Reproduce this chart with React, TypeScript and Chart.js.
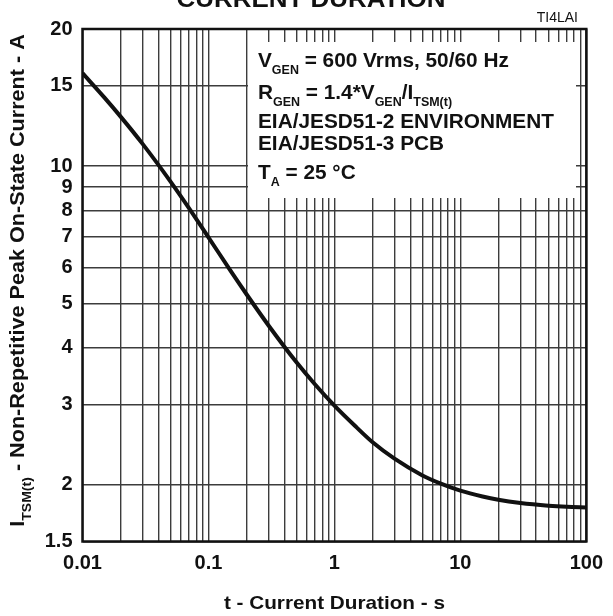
import { useEffect, useRef } from "react";
import {
    Chart,
    registerables,
    type ChartConfiguration,
    type Plugin,
} from "chart.js";

Chart.register(...registerables);

// t - current duration (s)
const durations = [
    0.01, 0.015, 0.02, 0.03, 0.05, 0.07, 0.1, 0.15, 0.2, 0.3, 0.5, 0.7, 1, 1.5,
    2, 3, 5, 7, 10, 15, 20, 30, 50, 70, 100,
];
// I_TSM(t) - non-repetitive peak on-state current (A)
const currents = [
    16.0, 14.12, 12.86, 11.19, 9.25, 8.09, 6.98, 5.89, 5.24, 4.47, 3.71, 3.32,
    2.98, 2.67, 2.48, 2.28, 2.095, 2.01, 1.94, 1.883, 1.852, 1.822, 1.798,
    1.788, 1.782,
];

const yTickValues = [1.5, 2, 3, 4, 5, 6, 7, 8, 9, 10, 15, 20];
const xDecades = [0.01, 0.1, 1, 10, 100];
const xMultipliers = [1, 2, 3, 4, 5, 6, 7, 8, 9];

type Seg = { t: string; sub?: boolean };

const conditionLines: Seg[][] = [
    [{ t: "V" }, { t: "GEN", sub: true }, { t: " = 600 Vrms, 50/60 Hz" }],
    [
        { t: "R" },
        { t: "GEN", sub: true },
        { t: " = 1.4*V" },
        { t: "GEN", sub: true },
        { t: "/I" },
        { t: "TSM(t)", sub: true },
    ],
    [{ t: "EIA/JESD51-2 ENVIRONMENT" }],
    [{ t: "EIA/JESD51-3 PCB" }],
    [{ t: "T" }, { t: "A", sub: true }, { t: " = 25 °C" }],
];
const conditionBaselines = [67, 99, 128, 150, 179];

const yTitle: Seg[] = [
    { t: "I" },
    { t: "TSM(t)", sub: true },
    { t: " - Non-Repetitive Peak On-State Current - A" },
];

const FONT = "'Liberation Sans', Arial, Helvetica, sans-serif";
const INK = "#111";
const GRID = "#3c3c3c";

const xTickValues = xDecades
    .slice(0, -1)
    .flatMap((d) => xMultipliers.map((m) => Number((d * m).toPrecision(2))))
    .concat([100]);

// draws text runs with subscripts, stretched horizontally by sx (the
// original uses a wider Helvetica than Liberation Sans)
const drawRich = (
    ctx: CanvasRenderingContext2D,
    segs: Seg[],
    x: number,
    y: number,
    size: number,
    subSize: number,
    subDrop: number,
    sx = 1,
    draw = true,
) => {
    let cx = 0;
    ctx.save();
    ctx.translate(x, y);
    ctx.scale(sx, 1);
    ctx.textAlign = "left";
    segs.forEach((s) => {
        ctx.font = `bold ${s.sub ? subSize : size}px ${FONT}`;
        if (draw) ctx.fillText(s.t, cx, s.sub ? subDrop : 0);
        cx += ctx.measureText(s.t).width;
    });
    ctx.restore();
    return cx * sx;
};

const drawCentered = (
    ctx: CanvasRenderingContext2D,
    text: string,
    x: number,
    y: number,
    font: string,
    sx: number,
) => {
    ctx.save();
    ctx.translate(x, y);
    ctx.scale(sx, 1);
    ctx.font = font;
    ctx.textAlign = "center";
    ctx.fillText(text, 0, 0);
    ctx.restore();
};

const decorPlugin: Plugin<"line"> = {
    id: "decor",
    beforeDatasetsDraw: (chart) => {
        const { ctx } = chart;
        ctx.save();
        // conditions box hides the grid behind it
        ctx.fillStyle = "#fff";
        ctx.fillRect(248, 42, 328, 156);
        ctx.fillStyle = INK;
        ctx.textBaseline = "alphabetic";
        conditionLines.forEach((segs, i) =>
            drawRich(ctx, segs, 258, conditionBaselines[i], 20, 12, 6.5, 1.04),
        );
        ctx.restore();
    },
    afterDraw: (chart) => {
        const { ctx, chartArea: a } = chart;
        ctx.save();
        ctx.strokeStyle = INK;
        ctx.lineWidth = 2.5;
        ctx.strokeRect(a.left, a.top, a.right - a.left, a.bottom - a.top);

        ctx.fillStyle = INK;
        ctx.textBaseline = "alphabetic";
        drawCentered(ctx, "CURRENT DURATION", 311, 7, `bold 24px ${FONT}`, 1.08);

        ctx.textAlign = "right";
        ctx.font = `14px ${FONT}`;
        ctx.fillText("TI4LAI", 578, 22);

        drawCentered(
            ctx,
            "t - Current Duration - s",
            (a.left + a.right) / 2,
            609,
            `bold 18.5px ${FONT}`,
            1.12,
        );

        // rotated y title with subscript
        const sx = 1.08;
        const w = drawRich(ctx, yTitle, 0, 0, 20, 13, 7, sx, false);
        ctx.translate(24, 280.5);
        ctx.rotate(-Math.PI / 2);
        drawRich(ctx, yTitle, -w / 2, 0, 20, 13, 7, sx);
        ctx.restore();
    },
};

const App = () => {
    const chartRef = useRef<HTMLCanvasElement>(null);
    const chartInstanceRef = useRef<Chart | null>(null);

    useEffect(() => {
        document.body.style.margin = "0";
        if (!chartRef.current) return;

        if (chartInstanceRef.current) {
            chartInstanceRef.current.destroy();
        }

        const tickFont = { family: FONT, size: 20, weight: "bold" as const };

        const config: ChartConfiguration<"line"> = {
            type: "line",
            data: {
                datasets: [
                    {
                        data: durations.map((t, i) => ({ x: t, y: currents[i] })),
                        borderColor: INK,
                        borderWidth: 4,
                        pointRadius: 0,
                        fill: false,
                        cubicInterpolationMode: "monotone",
                    },
                ],
            },
            options: {
                responsive: true,
                maintainAspectRatio: false,
                animation: false,
                layout: {
                    padding: { top: 29, right: 18, bottom: 0, left: 0 },
                },
                plugins: {
                    legend: { display: false },
                    tooltip: { enabled: false },
                },
                scales: {
                    x: {
                        type: "logarithmic",
                        min: 0.01,
                        max: 100,
                        afterFit: (scale) => {
                            scale.height = 74.5;
                        },
                        afterBuildTicks: (scale) => {
                            scale.ticks = xTickValues.map((value) => ({ value }));
                        },
                        ticks: {
                            autoSkip: false,
                            maxRotation: 0,
                            padding: 10,
                            color: INK,
                            font: tickFont,
                            callback: (v) =>
                                xDecades.includes(Number(v)) ? String(v) : "",
                        },
                        grid: { color: GRID, lineWidth: 1.4, drawTicks: false },
                        border: { display: false },
                    },
                    y: {
                        type: "logarithmic",
                        min: 1.5,
                        max: 20,
                        afterFit: (scale) => {
                            scale.width = 82.5;
                        },
                        afterBuildTicks: (scale) => {
                            scale.ticks = yTickValues.map((value) => ({ value }));
                        },
                        ticks: {
                            autoSkip: false,
                            padding: 10,
                            color: INK,
                            font: tickFont,
                            callback: (v) => String(v),
                        },
                        grid: { color: GRID, lineWidth: 1.4, drawTicks: false },
                        border: { display: false },
                    },
                },
            },
            plugins: [decorPlugin],
        };

        chartInstanceRef.current = new Chart(chartRef.current, config);

        return () => {
            chartInstanceRef.current?.destroy();
            chartInstanceRef.current = null;
        };
    }, []);

    return (
        <div style={{ position: "relative", width: "613px", height: "616px" }}>
            <canvas ref={chartRef} />
        </div>
    );
};

export default App;
